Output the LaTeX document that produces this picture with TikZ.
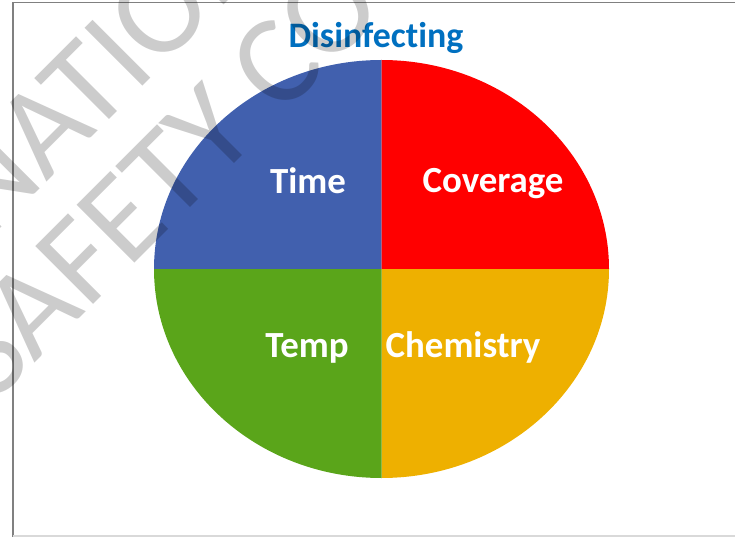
\documentclass[tikz,border=0pt]{standalone}
\usepackage{fontspec}
\setmainfont[Ligatures=NoCommon]{Carlito}
\definecolor{qblue}{HTML}{4160AE}
\definecolor{qred}{HTML}{FF0000}
\definecolor{qgreen}{HTML}{5AA51A}
\definecolor{qgold}{HTML}{EEB000}
\definecolor{titleblue}{HTML}{0070C0}
\begin{document}
\begin{tikzpicture}[x=1bp,y=-1bp,
  qlabel/.style={font=\fontsize{37}{44}\selectfont\bfseries, text=white, inner sep=0pt, anchor=base},
  heading/.style={font=\fontsize{36}{43}\selectfont\bfseries, text=titleblue, inner sep=0pt, anchor=base},
  wmtext/.style={font=\fontsize{128}{140}\selectfont, text=black, text opacity=0.2, rotate=45, inner sep=0pt, anchor=base west},
  frameline/.style={line width=1.4bp}
]
\useasboundingbox (0,0) rectangle (735,537);
\begin{scope}
\clip (0,0) rectangle (735,537);

% four quarters of the ellipse
\coordinate (c) at (381.5,269);
\fill[qblue]  (c) -- ++(0,-209) arc[start angle=270, end angle=180, x radius=227.5, y radius=209] -- cycle;
\fill[qred]   (c) -- ++(0,-209) arc[start angle=270, end angle=360, x radius=227.5, y radius=209] -- cycle;
\fill[qgold]  (c) -- ++(227.5,0) arc[start angle=0, end angle=90, x radius=227.5, y radius=209] -- cycle;
\fill[qgreen] (c) -- ++(0,209) arc[start angle=90, end angle=180, x radius=227.5, y radius=209] -- cycle;

% labels
\node[heading] (title) at (376,48) {Disinfecting};
\node[qlabel] (time) at (308,194) {Time};
\node[qlabel] (coverage) at (493,193) {Coverage};
\node[qlabel] (temp) at (307,357) {Temp};
\node[qlabel] (chem) at (463,357) {Chemistry};

% frame
\draw[frameline, draw=black!50] (13,537) -- (13,2.5) -- (735,2.5);
\draw[line width=1.2bp, draw=black!15] (13,536) -- (735,536);

% watermark
\node[wmtext] (wm1) at (-12,241) {NATIONAL};
\node[wmtext] (wm2) at (-6,404) {SAFETY COUNCIL};
\end{scope}
\end{tikzpicture}
\end{document}
